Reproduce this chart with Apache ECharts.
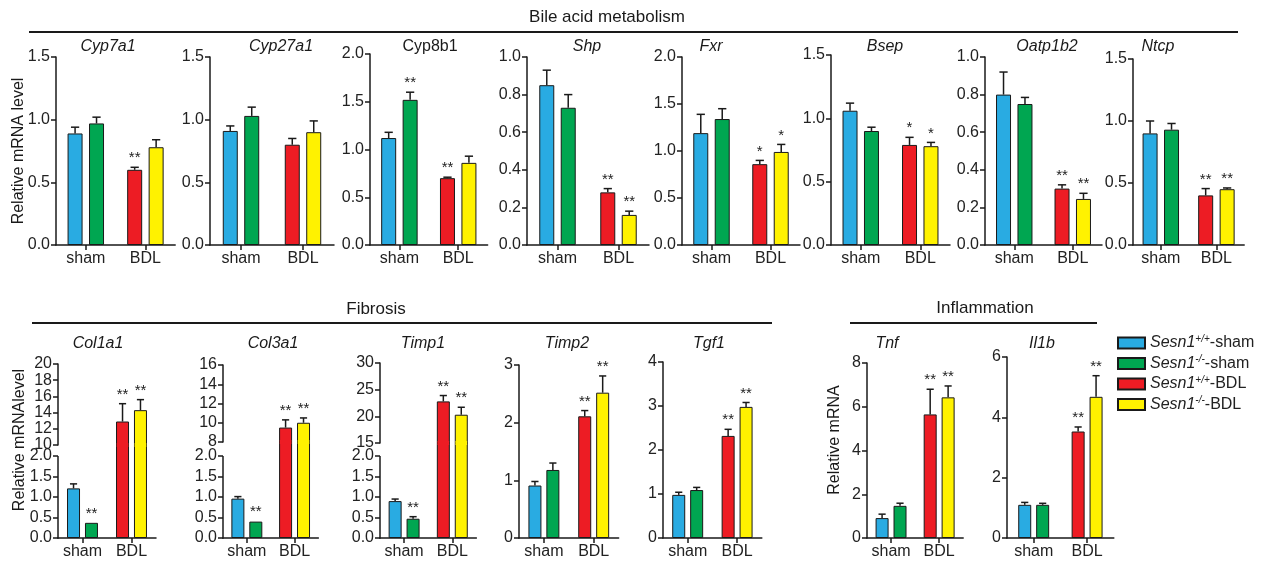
<!DOCTYPE html>
<html><head><meta charset="utf-8">
<script src="https://cdn.jsdelivr.net/npm/echarts@6/dist/echarts.min.js"></script>
<style>html,body{margin:0;padding:0;background:#fff}#c{width:1265px;height:567px}</style>
</head><body><div id="c"></div>
<script>
// ================= DATA =================
const categories = ['sham', 'BDL'];
const groups = ['Sesn1+/+-sham', 'Sesn1-/--sham', 'Sesn1+/+-BDL', 'Sesn1-/--BDL'];
const sectionTitles = ['Bile acid metabolism', 'Fibrosis', 'Inflammation'];
const yAxisTitles = ['Relative mRNA level', 'Relative mRNAlevel', 'Relative mRNA'];
const topGenes = ['Cyp7a1', 'Cyp27a1', 'Cyp8b1', 'Shp', 'Fxr', 'Bsep', 'Oatp1b2', 'Ntcp'];
const bottomGenes = ['Col1a1', 'Col3a1', 'Timp1', 'Timp2', 'Tgf1', 'Tnf', 'Il1b'];

// values in group order: Sesn1+/+-sham, Sesn1-/--sham, Sesn1+/+-BDL, Sesn1-/--BDL ; Err = top of error bar
const cyp7a1 = [0.89, 0.97, 0.60, 0.78];
const cyp7a1Err = [0.94, 1.02, 0.62, 0.84];
const cyp7a1Sig = ['', '', '**', ''];
const cyp7a1Ticks = [0, 0.5, 1.0, 1.5];

const cyp27a1 = [0.91, 1.03, 0.80, 0.90];
const cyp27a1Err = [0.95, 1.10, 0.85, 0.99];
const cyp27a1Sig = ['', '', '', ''];
const cyp27a1Ticks = [0, 0.5, 1.0, 1.5];

const cyp8b1 = [1.12, 1.52, 0.70, 0.86];
const cyp8b1Err = [1.18, 1.60, 0.71, 0.93];
const cyp8b1Sig = ['', '**', '**', ''];
const cyp8b1Ticks = [0, 0.5, 1.0, 1.5, 2.0];

const shp = [0.85, 0.73, 0.28, 0.16];
const shpErr = [0.93, 0.80, 0.30, 0.18];
const shpSig = ['', '', '**', '**'];
const shpTicks = [0, 0.2, 0.4, 0.6, 0.8, 1.0];

const fxr = [1.19, 1.34, 0.86, 0.99];
const fxrErr = [1.39, 1.45, 0.90, 1.07];
const fxrSig = ['', '', '*', '*'];
const fxrTicks = [0, 0.5, 1.0, 1.5, 2.0];

const bsep = [1.06, 0.90, 0.79, 0.78];
const bsepErr = [1.12, 0.93, 0.85, 0.81];
const bsepSig = ['', '', '*', '*'];
const bsepTicks = [0, 0.5, 1.0, 1.5];

const oatp1b2 = [0.80, 0.75, 0.30, 0.245];
const oatp1b2Err = [0.92, 0.785, 0.32, 0.275];
const oatp1b2Sig = ['', '', '**', '**'];
const oatp1b2Ticks = [0, 0.2, 0.4, 0.6, 0.8, 1.0];

const ntcp = [0.90, 0.93, 0.40, 0.45];
const ntcpErr = [1.00, 0.98, 0.455, 0.46];
const ntcpSig = ['', '', '**', '**'];
const ntcpTicks = [0, 0.5, 1.0, 1.5];

const col1a1 = [1.21, 0.37, 12.9, 14.3];
const col1a1Err = [1.32, 0.37, 15.1, 15.6];
const col1a1Sig = ['', '**', '**', '**'];
const col1a1LowTicks = [0, 0.5, 1.0, 1.5, 2.0];
const col1a1HighTicks = [10, 12, 14, 16, 18, 20];

const col3a1 = [0.96, 0.40, 9.5, 10.0];
const col3a1Err = [1.01, 0.41, 10.3, 10.5];
const col3a1Sig = ['', '**', '**', '**'];
const col3a1LowTicks = [0, 0.5, 1.0, 1.5, 2.0];
const col3a1HighTicks = [8, 10, 12, 14, 16];

const timp1 = [0.90, 0.47, 22.8, 20.3];
const timp1Err = [0.95, 0.52, 23.9, 21.7];
const timp1Sig = ['', '**', '**', '**'];
const timp1LowTicks = [0, 0.5, 1.0, 1.5, 2.0];
const timp1HighTicks = [15, 20, 25, 30];

const timp2 = [0.91, 1.18, 2.11, 2.52];
const timp2Err = [0.98, 1.30, 2.21, 2.81];
const timp2Sig = ['', '', '**', '**'];
const timp2Ticks = [0, 1, 2, 3];

const tgf1 = [0.98, 1.09, 2.32, 2.98];
const tgf1Err = [1.04, 1.15, 2.47, 3.08];
const tgf1Sig = ['', '', '**', '**'];
const tgf1Ticks = [0, 1, 2, 3, 4];

const tnf = [0.91, 1.47, 5.65, 6.43];
const tnfErr = [1.09, 1.59, 6.80, 6.95];
const tnfSig = ['', '', '**', '**'];
const tnfTicks = [0, 2, 4, 6, 8];

const il1b = [1.10, 1.10, 3.53, 4.68];
const il1bErr = [1.18, 1.15, 3.68, 5.38];
const il1bSig = ['', '', '**', '**'];
const il1bTicks = [0, 2, 4, 6];

// ================= STYLE / LAYOUT =================
const FONT = "'Liberation Sans', Arial, Helvetica, sans-serif";
const INK = '#1a1a1a';
const colors = ['#29ABE2', '#00A651', '#ED1C24', '#FFF200'];

const topRow = {bottom: 245, barW: 15, gap: 0.43, titleY: 47};
const botRow = {bottom: 538, barW: 13, gap: 0.38, titleY: 344};

const topPanels = [
  {mean: cyp7a1, err: cyp7a1Err, sig: cyp7a1Sig, ticks: cyp7a1Ticks, dec: 1, italic: true, left: 56, w: 59.6, top: 57, tx: 108},
  {mean: cyp27a1, err: cyp27a1Err, sig: cyp27a1Sig, ticks: cyp27a1Ticks, dec: 1, italic: true, left: 210, w: 62, top: 57, tx: 281},
  {mean: cyp8b1, err: cyp8b1Err, sig: cyp8b1Sig, ticks: cyp8b1Ticks, dec: 1, italic: false, left: 370, w: 58.8, top: 54, tx: 430},
  {mean: shp, err: shpErr, sig: shpSig, ticks: shpTicks, dec: 1, italic: true, left: 527, w: 61, top: 57, tx: 587},
  {mean: fxr, err: fxrErr, sig: fxrSig, ticks: fxrTicks, dec: 1, italic: true, left: 682, w: 59, top: 57, tx: 711},
  {mean: bsep, err: bsepErr, sig: bsepSig, ticks: bsepTicks, dec: 1, italic: true, left: 831, w: 59.5, top: 55, tx: 885},
  {mean: oatp1b2, err: oatp1b2Err, sig: oatp1b2Sig, ticks: oatp1b2Ticks, dec: 1, italic: true, left: 985, w: 58.5, top: 57, tx: 1047},
  {mean: ntcp, err: ntcpErr, sig: ntcpSig, ticks: ntcpTicks, dec: 1, italic: true, left: 1133, w: 55.6, top: 59, tx: 1158}
];
const botPanels = [
  {mean: col1a1, err: col1a1Err, sig: col1a1Sig, ticks: col1a1LowTicks, high: col1a1HighTicks, dec: 1, italic: true, left: 58, w: 49, top: 364, breakY: 445, lowTop: 456, tx: 98},
  {mean: col3a1, err: col3a1Err, sig: col3a1Sig, ticks: col3a1LowTicks, high: col3a1HighTicks, dec: 1, italic: true, left: 223, w: 47.7, top: 365, breakY: 442, lowTop: 456, tx: 273},
  {mean: timp1, err: timp1Err, sig: timp1Sig, ticks: timp1LowTicks, high: timp1HighTicks, dec: 1, italic: true, left: 380, w: 48.2, top: 363, breakY: 443, lowTop: 456, tx: 423},
  {mean: timp2, err: timp2Err, sig: timp2Sig, ticks: timp2Ticks, dec: 0, italic: true, left: 519, w: 49.8, top: 365, tx: 567},
  {mean: tgf1, err: tgf1Err, sig: tgf1Sig, ticks: tgf1Ticks, dec: 0, italic: true, left: 663, w: 49.4, top: 362, tx: 709},
  {mean: tnf, err: tnfErr, sig: tnfSig, ticks: tnfTicks, dec: 0, italic: true, left: 867, w: 48.1, top: 363, tx: 887},
  {mean: il1b, err: il1bErr, sig: il1bSig, ticks: il1bTicks, dec: 0, italic: true, left: 1007, w: 53.4, top: 357, tx: 1042}
];

// ================= BUILD =================
const option = {
  animation: false,
  textStyle: {fontFamily: FONT},
  grid: [], xAxis: [], yAxis: [], series: [], graphic: []
};

function axisLineStyle() { return {color: INK, width: 1.5}; }

function addAxes(left, top, width, height, showX, yCfg, showYLine) {
  const idx = option.grid.length;
  option.grid.push({left, top, width, height, containLabel: false, outerBoundsMode: 'none', show: false});
  option.xAxis.push({
    type: 'category', gridIndex: idx, data: categories, show: showX, boundaryGap: true,
    axisLine: {show: true, onZero: false, lineStyle: axisLineStyle()},
    axisTick: {show: true, alignWithLabel: true, length: 5, inside: false, lineStyle: axisLineStyle()},
    axisLabel: {show: true, interval: 0, hideOverlap: false, fontSize: 16, color: '#222', margin: 6, fontFamily: FONT},
    splitLine: {show: false}
  });
  option.yAxis.push(Object.assign({
    type: 'value', gridIndex: idx,
    axisLine: {show: showYLine !== false, onZero: false, lineStyle: axisLineStyle()},
    axisTick: {show: true, length: 5, inside: false, lineStyle: axisLineStyle()},
    splitLine: {show: false}
  }, yCfg));
  return idx;
}

function yNormal(ticks, dec) {
  return {
    min: ticks[0], max: ticks[ticks.length - 1], interval: ticks[1] - ticks[0],
    axisLabel: {fontSize: 16, color: '#222', margin: 6, fontFamily: FONT, formatter: v => Number(v).toFixed(dec)}
  };
}
function yLow(ticks, dec, max) {
  return {
    min: ticks[0], max: max,
    axisTick: {show: true, length: 5, inside: false, lineStyle: axisLineStyle(), customValues: ticks},
    axisLabel: {fontSize: 16, color: '#222', margin: 6, fontFamily: FONT, customValues: ticks, formatter: v => Number(v).toFixed(dec)}
  };
}

function addBars(g, items, row) {
  [0, 1].forEach(slot => {
    const data = [0, 1].map(cat => {
      const it = items[cat * 2 + slot];
      return it ? {value: it.mean, itemStyle: {color: it.color}} : '-';
    });
    option.series.push({
      type: 'bar', xAxisIndex: g, yAxisIndex: g, data, barWidth: row.barW, barGap: (row.gap * 100) + '%',
      clip: true, silent: true, z: 2,
      itemStyle: {borderColor: INK, borderWidth: 1}
    });
  });
}

// error bars, significance marks; for broken axes also the patch over the split and the lower axis line
function addOverlay(g, list, row, opts) {
  if (!list.length) return;
  const off = row.barW * (1 + row.gap) / 2;
  const cap = row.barW * 0.55;
  option.series.push({
    type: 'custom', xAxisIndex: g, yAxisIndex: g, z: 5, silent: true,
    data: list.map(it => [it.cat, it.mean, it.err]),
    encode: {x: 0, y: [1, 2]},
    renderItem: function (params, api) {
      const it = list[params.dataIndex];
      const cs = params.coordSys;
      const c = api.coord([it.cat, it.mean]);
      const x = c[0] + (it.slot === 0 ? -off : off);
      const yTop = api.coord([it.cat, it.err])[1];
      const ch = [];
      if (opts.patch) {
        ch.push({type: 'rect', shape: {x: x - row.barW / 2 + 0.7, y: cs.y + cs.height - 2, width: row.barW - 1.4, height: 4},
                 style: {fill: it.color}});
      }
      if (opts.lowMax != null && params.dataIndex === 0) {
        const y0 = api.coord([0, 0])[1], y1 = api.coord([0, opts.lowMax])[1];
        ch.push({type: 'line', shape: {x1: cs.x, y1: y0 + 0.75, x2: cs.x, y2: y1}, style: {stroke: INK, lineWidth: 1.5}});
      }
      if (c[1] - yTop > 0.5) {
        ch.push({type: 'line', shape: {x1: x, y1: c[1], x2: x, y2: yTop}, style: {stroke: INK, lineWidth: 1.5}});
        ch.push({type: 'line', shape: {x1: x - cap / 2, y1: yTop, x2: x + cap / 2, y2: yTop}, style: {stroke: INK, lineWidth: 1.5}});
      }
      if (it.sig) {
        ch.push({type: 'text', x: x, y: yTop - 9, style: {text: it.sig, align: 'center', verticalAlign: 'middle',
                 font: '15px ' + FONT, fill: '#222'}});
      }
      return {type: 'group', children: ch};
    }
  });
}

function buildPanel(p, row) {
  const width = 2 * p.w;
  const items = p.mean.map((m, i) => ({cat: i < 2 ? 0 : 1, slot: i % 2, mean: m, err: p.err[i], sig: p.sig[i], color: colors[i]}));
  if (!p.high) {
    const g = addAxes(p.left, p.top, width, row.bottom - p.top, true, yNormal(p.ticks, p.dec));
    addBars(g, items, row);
    addOverlay(g, items, row, {});
  } else {
    const lowMax = p.ticks[p.ticks.length - 1];
    const lowAxisMax = lowMax * (row.bottom - p.breakY) / (row.bottom - p.lowTop);
    const gl = addAxes(p.left, p.breakY, width, row.bottom - p.breakY, true, yLow(p.ticks, p.dec, lowAxisMax), false);
    const gu = addAxes(p.left, p.top, width, p.breakY - p.top, false, yNormal(p.high, 0));
    const hiMin = p.high[0];
    addBars(gl, items, row);
    addBars(gu, items.map(it => it.mean >= hiMin ? it : null), row);
    addOverlay(gl, items.filter(it => it.mean < hiMin), row, {lowMax});
    addOverlay(gu, items.filter(it => it.mean >= hiMin), row, {patch: true});
  }
  option.graphic.push(gText(p.tx, row.titleY, p.gene, (p.italic ? 'italic ' : '') + '16px ' + FONT));
}

function gText(x, y, text, font, rot) {
  return {type: 'text', x, y, rotation: rot || 0, silent: true, z: 10,
          style: {text, font, fill: '#1a1a1a', align: 'center', verticalAlign: 'middle'}};
}
function gLine(x1, y1, x2, y2) {
  return {type: 'line', silent: true, shape: {x1, y1, x2, y2}, style: {stroke: INK, lineWidth: 2}};
}

topPanels.forEach((p, i) => { p.gene = topGenes[i]; buildPanel(p, topRow); });
botPanels.forEach((p, i) => { p.gene = bottomGenes[i]; buildPanel(p, botRow); });

// section headers
option.graphic.push(gText(607, 17, sectionTitles[0], '17px ' + FONT));
option.graphic.push(gLine(29, 32, 1238, 32));
option.graphic.push(gText(376, 309, sectionTitles[1], '17px ' + FONT));
option.graphic.push(gLine(32, 323, 772, 323));
option.graphic.push(gText(985, 308, sectionTitles[2], '17px ' + FONT));
option.graphic.push(gLine(850, 323, 1097, 323));
// y-axis titles
option.graphic.push(gText(19, 151, yAxisTitles[0], '16px ' + FONT, Math.PI / 2));
option.graphic.push(gText(20, 440, yAxisTitles[1], '16px ' + FONT, Math.PI / 2));
option.graphic.push(gText(835, 440, yAxisTitles[2], '16px ' + FONT, Math.PI / 2));

// legend (series placed in a hidden grid so they take no bar slots)
const lg = option.grid.length;
option.grid.push({left: 0, top: 0, width: 1, height: 1, show: false});
option.xAxis.push({type: 'category', gridIndex: lg, show: false, data: categories});
option.yAxis.push({type: 'value', gridIndex: lg, show: false});
groups.forEach((name, i) => {
  option.series.push({type: 'bar', name, xAxisIndex: lg, yAxisIndex: lg, data: [],
    itemStyle: {color: colors[i], borderColor: INK, borderWidth: 1}});
});
option.legend = {
  orient: 'vertical', left: 1112, top: 329, itemWidth: 27, itemHeight: 11, itemGap: 3.5,
  icon: 'rect', selectedMode: false, data: groups,
  formatter: function (name) {
    const m = name.match(/^(Sesn1)(\+\/\+|-\/-)(-.*)$/);
    return m ? '{i|' + m[1] + '}{s|' + m[2] + '}{n|' + m[3] + '}' : name;
  },
  textStyle: {
    fontSize: 16, color: '#222', fontFamily: FONT,
    rich: {
      i: {fontStyle: 'italic', fontSize: 16, lineHeight: 18, color: '#222', fontFamily: FONT},
      s: {fontStyle: 'italic', fontSize: 10, lineHeight: 10, verticalAlign: 'top', color: '#222', fontFamily: FONT},
      n: {fontSize: 16, lineHeight: 18, color: '#222', fontFamily: FONT}
    }
  }
};

const chart = echarts.init(document.getElementById('c'), null, {renderer: 'canvas'});
chart.setOption(option);
</script>
</body></html>
